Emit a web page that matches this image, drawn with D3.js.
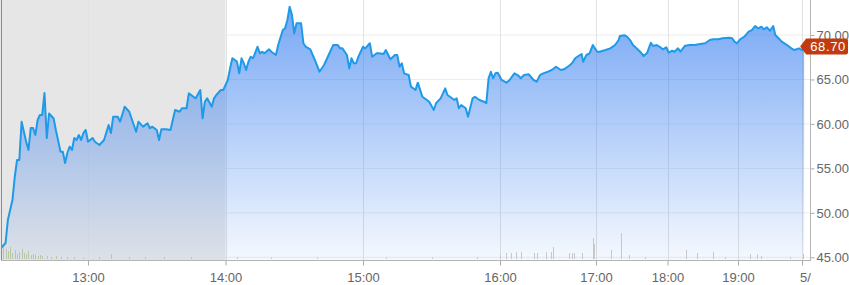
<!DOCTYPE html>
<html><head><meta charset="utf-8">
<script src="https://cdn.jsdelivr.net/npm/d3@7"></script>
<style>html,body{margin:0;padding:0;background:#fff;} svg{display:block;font-family:"Liberation Sans",Arial,sans-serif;}</style>
</head><body><svg id="c" width="849" height="285"></svg>
<script>
const priceTimes = ["12:22","12:24","12:25","12:27","12:28","12:29","12:30","12:31","12:33","12:34","12:35","12:36","12:37","12:38","12:39","12:40","12:41","12:42","12:43","12:45","12:46","12:48","12:49","12:50","12:51","12:52","12:53","12:54","12:55","12:56","12:57","12:58","12:59",
"13:00","13:02","13:03","13:05","13:07","13:09","13:10","13:11","13:13","13:14","13:16","13:18","13:21","13:22","13:24","13:26","13:27","13:28","13:30","13:31","13:32","13:34","13:36","13:38","13:40","13:41","13:43","13:44","13:46","13:47","13:49","13:50","13:51","13:52","13:54","13:55","13:56","13:58","13:59",
"14:01","14:02","14:03","14:05","14:06","14:07","14:08","14:09","14:10","14:11","14:12","14:14","14:15","14:16","14:17","14:19","14:20","14:22","14:23","14:25","14:26","14:27","14:28","14:29","14:30","14:31","14:33","14:34","14:35","14:37","14:39","14:41","14:43","14:45","14:47","14:49","14:50","14:51","14:53","14:54","14:55","14:56","14:57","14:58",
"15:00","15:01","15:03","15:04","15:06","15:07","15:09","15:10","15:12","15:14","15:15","15:16","15:17","15:18","15:20","15:21","15:23","15:24","15:26","15:28","15:29","15:31","15:32","15:34","15:36","15:37","15:39","15:40","15:41","15:42","15:43","15:45","15:46","15:48","15:49","15:51","15:53","15:54","15:55","15:56","15:57","15:58","15:59",
"16:01","16:04","16:06","16:09","16:11","16:13","16:15","16:18","16:21","16:23","16:25","16:27","16:30","16:33","16:35","16:38","16:40","16:43","16:45","16:47","16:49","16:51","16:52","16:54","16:56","16:58",
"17:01","17:03","17:08","17:12","17:16","17:19","17:20","17:24","17:26","17:29","17:31","17:34","17:37","17:40","17:43","17:46","17:48","17:51","17:54","17:56","17:59",
"18:01","18:04","18:06","18:09","18:11","18:15","18:19","18:23","18:28","18:32","18:36","18:39","18:43","18:47","18:52","18:55","18:57","18:59",
"19:02","19:06","19:10","19:13","19:16","19:19","19:22","19:24","19:27","19:30","19:33","19:35","19:38","19:41","19:46","19:50","19:53","19:57","20:00","20:02"];
const priceValues = [46.05,46.61,49.19,51.44,54.03,55.94,55.94,60.25,58.00,57.07,59.54,59.54,58.75,60.44,61.00,61.00,63.48,58.41,61.17,60.61,59.26,56.88,56.88,55.61,56.73,57.44,57.07,58.42,58.19,58.75,58.19,58.98,59.32,
58.00,58.42,58.00,57.63,58.19,59.88,58.98,60.81,60.81,60.25,61.94,61.37,59.12,60.25,59.69,60.07,59.51,59.69,59.32,58.19,59.39,59.39,59.32,61.57,61.37,61.76,61.76,63.44,63.06,62.88,63.81,60.63,62.50,62.88,61.94,62.88,63.25,63.81,63.81,
64.94,66.25,67.38,67.00,65.69,67.38,66.82,66.06,67.00,67.56,67.38,68.68,67.94,68.12,67.94,68.39,68.12,67.75,68.87,70.56,70.75,71.69,73.18,72.25,70.19,71.32,71.32,69.07,68.68,68.39,67.19,65.87,66.63,67.75,68.87,68.87,68.50,68.50,67.75,66.25,67.38,66.82,66.82,67.56,
68.68,68.50,69.07,67.56,67.94,67.94,67.86,68.31,67.27,67.75,67.75,66.43,66.82,65.69,65.50,64.19,63.81,64.64,63.06,62.69,62.50,61.57,62.32,62.88,64.00,63.25,62.88,62.69,62.88,61.76,62.13,61.76,60.81,62.88,63.06,62.69,62.50,62.32,65.13,65.87,65.13,65.69,65.76,
64.94,64.64,64.94,65.69,65.50,65.13,65.50,65.58,64.94,64.75,65.50,65.69,65.87,66.14,66.43,66.06,66.14,66.51,66.82,67.38,67.64,67.86,67.00,67.75,67.94,68.87,
68.12,68.12,68.31,68.50,68.87,69.44,69.89,69.97,69.81,69.36,68.87,68.50,68.12,67.64,68.01,69.13,68.76,68.87,68.62,68.39,68.62,
68.01,68.23,68.12,68.50,68.12,68.80,68.87,68.87,68.99,69.07,69.44,69.52,69.52,69.63,69.70,69.63,69.25,69.07,
69.52,69.81,70.37,70.56,71.01,70.75,70.93,70.64,70.87,70.48,71.01,70.00,69.63,69.25,68.87,68.50,68.31,68.50,68.31,68.70];

const volumeTimes = ["12:23","12:24","12:25","12:26","12:27","12:28","12:29","12:30","12:31","12:32","12:33","12:34","12:35","12:36","12:37","12:38","12:39","12:40","12:42","12:44","12:46","12:48","12:51","12:54","12:58","13:05","13:10","13:18","13:25","13:33","13:45","14:05","14:20","14:40","15:10","15:30","15:50",
"16:00","16:04","16:07","16:10","16:13","16:21","16:23","16:29","16:32","16:33","16:43","16:45","16:46","16:51","16:58","16:59","17:13","17:21","17:28","17:41","18:16","18:25","18:39","18:49","19:11","19:18","19:22","19:49","20:01"];
const volumeValues = [12,10,8,12,6,9,5,7,10,6,5,8,4,5,4,3,4,3,3,2,3,2,2,2,1.5,2,5,2,2,2,2,2,1.5,1.5,1.5,1.5,2,
4,6,6,7,7,6,6,7,7,12,6,6,6,6,21,15,9,26,4,2,9,6,7,2,5,5,3,2,5];

const xTickTimes = ["13:00","14:00","15:00","16:00","17:00","18:00","19:00","20:00"];
const xTickLabels = ["13:00","14:00","15:00","16:00","17:00","18:00","19:00","5/"];
const yTickValues = [45,50,55,60,65,70];
const lastPrice = 68.70;
const preMarketEnd = "14:00";

const parse = d3.timeParse("%H:%M");
const data = priceTimes.map((t,i)=>({t:parse(t), v:priceValues[i]}));
const vols = volumeTimes.map((t,i)=>({t:parse(t), v:volumeValues[i]}));

const plotL = 1, plotR = 810, plotT = 0, plotB = 260;

// the time axis is compressed irregularly; piecewise-linear time scale
const x = d3.scaleTime()
  .domain(["12:22","13:00","14:00","15:00","16:00","17:00","18:00","19:00","20:00"].map(parse))
  .range([1,88,225.5,363,500,596,667.5,738,802]);
const y = d3.scaleLinear().domain([45,70]).range([257.3,35]);
const vy = d3.scaleLinear().domain([0,30]).range([0,30]);

const svg = d3.select("#c");
const defs = svg.append("defs");
const grad = defs.append("linearGradient").attr("id","fillG")
  .attr("gradientUnits","userSpaceOnUse").attr("x1",0).attr("y1",plotT).attr("x2",0).attr("y2",plotB);
grad.append("stop").attr("offset","0%").attr("stop-color","rgb(60,130,240)").attr("stop-opacity",0.72);
grad.append("stop").attr("offset","100%").attr("stop-color","rgb(60,130,240)").attr("stop-opacity",0.05);
defs.append("clipPath").attr("id","clip").append("rect")
  .attr("x",plotL).attr("y",plotT).attr("width",plotR-plotL).attr("height",plotB-plotT);

// horizontal grid
svg.append("g").selectAll("line").data(yTickValues).join("line")
  .attr("x1",plotL).attr("x2",plotR).attr("y1",d=>y(d)).attr("y2",d=>y(d))
  .attr("stroke","#ececec").attr("stroke-width",1);

// pre-market shading
svg.append("rect").attr("x",0).attr("y",plotT)
  .attr("width",x(parse(preMarketEnd))).attr("height",plotB-plotT)
  .attr("fill","#e6e6e6");

// vertical grid
svg.append("g").selectAll("line").data(xTickTimes.map(parse)).join("line")
  .attr("x1",d=>Math.round(x(d))+0.5).attr("x2",d=>Math.round(x(d))+0.5)
  .attr("y1",plotT).attr("y2",plotB)
  .attr("stroke","#e2e2e2").attr("stroke-width",1);

const gPlot = svg.append("g").attr("clip-path","url(#clip)");
gPlot.append("path").datum(data)
  .attr("d", d3.area().x(d=>x(d.t)).y0(plotB).y1(d=>y(d.v)))
  .attr("fill","url(#fillG)");

// volume bars
gPlot.append("g").selectAll("rect").data(vols).join("rect")
  .attr("x",d=>Math.round(x(d.t)))
  .attr("y",d=>plotB-1-vy(d.v))
  .attr("width",1).attr("height",d=>vy(d.v))
  .attr("fill",d=>d.t < parse(preMarketEnd) ? "#b7c7a8" : "#c8c8c8");

gPlot.append("path").datum(data)
  .attr("d", d3.line().x(d=>x(d.t)).y(d=>y(d.v)))
  .attr("fill","none").attr("stroke","#1e9ae9").attr("stroke-width",2)
  .attr("stroke-linejoin","round");

// left border
svg.append("line").attr("x1",plotL+0.5).attr("x2",plotL+0.5).attr("y1",plotT).attr("y2",plotB)
  .attr("stroke","#8c8c8c");

// bottom axis
const xAxis = svg.append("g").attr("transform",`translate(0,${plotB+0.5})`)
  .call(d3.axisBottom(x).tickValues(xTickTimes.map(parse))
    .tickFormat((d,i)=>xTickLabels[i]).tickSize(5).tickPadding(7));
xAxis.select(".domain").remove();
xAxis.selectAll(".tick line").attr("stroke","#aaa");
xAxis.selectAll(".tick text").attr("fill","#666").style("font-size","13px")
  .style("font-family","'Liberation Sans',Arial,sans-serif");
xAxis.selectAll(".tick text").filter((d,i)=>i===xTickTimes.length-1).attr("dx","3");
svg.append("line").attr("x1",plotL).attr("x2",plotR).attr("y1",plotB+0.5).attr("y2",plotB+0.5)
  .attr("stroke","#b5b5b5");

// right axis
const yAxis = svg.append("g").attr("transform",`translate(${plotR+0.5},0)`)
  .call(d3.axisRight(y).tickValues(yTickValues).tickFormat(d3.format(".2f")).tickSize(4).tickPadding(2));
yAxis.select(".domain").remove();
yAxis.selectAll(".tick line").attr("stroke","#aaa");
yAxis.selectAll(".tick text").attr("fill","#666").style("font-size","13px")
  .style("font-family","'Liberation Sans',Arial,sans-serif");
svg.append("line").attr("x1",plotR+0.5).attr("x2",plotR+0.5).attr("y1",plotT).attr("y2",plotB+1)
  .attr("stroke","#b5b5b5");

// last price tag
const yp = y(lastPrice);
const tipX = x(data[data.length-1].t) - 4;
svg.append("path")
  .attr("d",`M${tipX},${yp} L${tipX+6},${yp-8} L846,${yp-8} Q848,${yp-8} 848,${yp-6} L848,${yp+6} Q848,${yp+8} 846,${yp+8} L${tipX+6},${yp+8} Z`)
  .attr("fill","#c23a0e");
svg.append("text").attr("x",(tipX+6+848)/2+1).attr("y",yp).attr("dy","0.35em")
  .attr("text-anchor","middle").attr("fill","#fff")
  .style("font-size","13px").style("letter-spacing","0.6px")
  .text(d3.format(".2f")(lastPrice));
</script></body></html>
